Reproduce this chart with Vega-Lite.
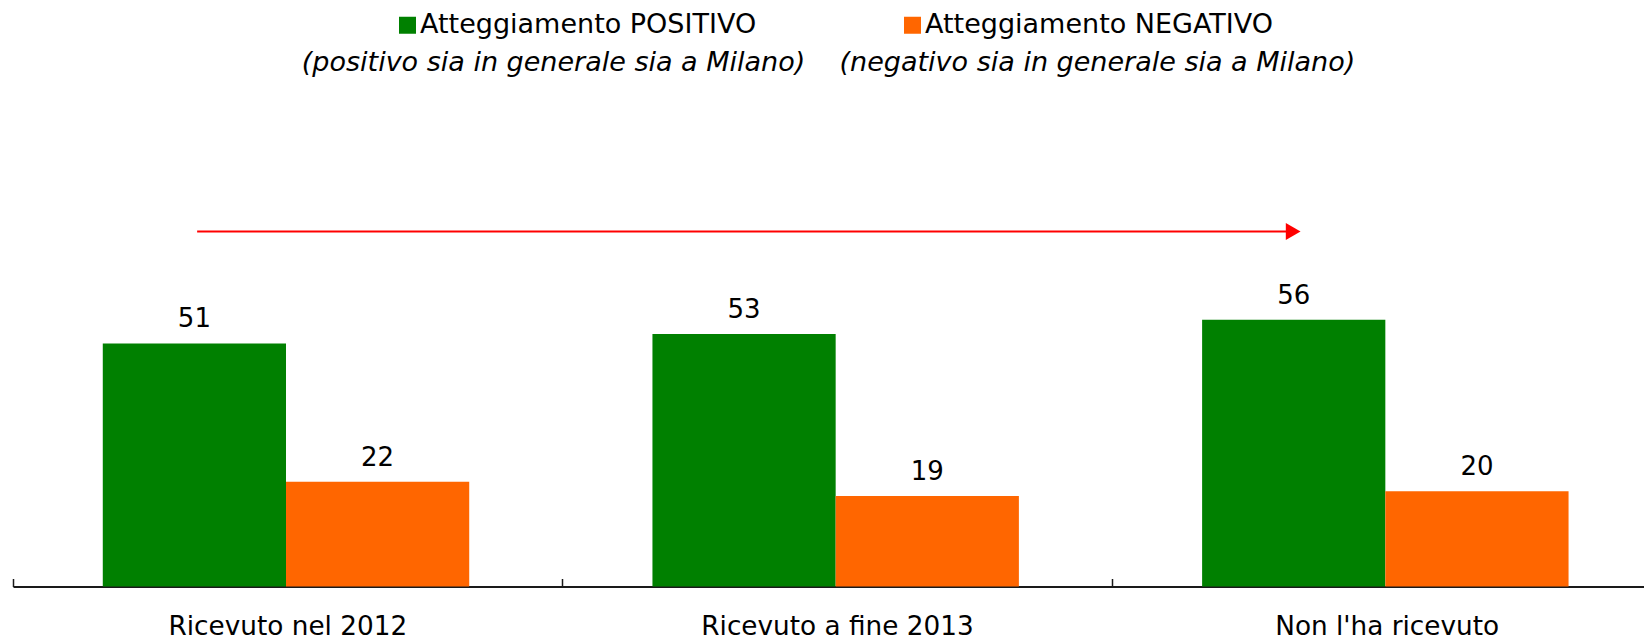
{
  "$schema": "https://vega.github.io/schema/vega-lite/v6.json",
  "autosize": {"type": "none"},
  "padding": {"left": 13, "top": 110, "right": 0, "bottom": 53.5},
  "width": 1631,
  "height": 476.5,
  "background": "white",
  "config": {
    "view": {"stroke": null},
    "font": "DejaVu Sans",
    "text": {"font": "DejaVu Sans"}
  },
  "title": {
    "text": "(positivo sia in generale sia a Milano)\u00a0\u00a0\u00a0\u00a0(negativo sia in generale sia a Milano)",
    "font": "DejaVu Sans",
    "fontSize": 27,
    "fontStyle": "italic",
    "fontWeight": "normal",
    "color": "#000000",
    "anchor": "middle",
    "dy": 69
  },
  "datasets": {
    "bars": [
      {"cat": "Ricevuto nel 2012", "serie": "Atteggiamento POSITIVO", "v": 51},
      {"cat": "Ricevuto nel 2012", "serie": "Atteggiamento NEGATIVO", "v": 22},
      {"cat": "Ricevuto a fine 2013", "serie": "Atteggiamento POSITIVO", "v": 53},
      {"cat": "Ricevuto a fine 2013", "serie": "Atteggiamento NEGATIVO", "v": 19},
      {"cat": "Non l'ha ricevuto", "serie": "Atteggiamento POSITIVO", "v": 56},
      {"cat": "Non l'ha ricevuto", "serie": "Atteggiamento NEGATIVO", "v": 20}
    ],
    "arrow": [
      {"from": "Ricevuto nel 2012", "to": "Non l'ha ricevuto", "y": 74.5}
    ]
  },
  "layer": [
    {
      "data": {"name": "bars"},
      "mark": {"type": "bar"},
      "encoding": {
        "x": {
          "field": "cat", "type": "nominal", "sort": null,
          "scale": {"domain": ["Ricevuto nel 2012", "Ricevuto a fine 2013", "Non l'ha ricevuto"], "range": [0, 1649], "paddingInner": 0, "paddingOuter": 0},
          "axis": {
            "title": null, "labelAngle": 0, "labelFontSize": 26.3, "labelColor": "#000000", "labelFont": "DejaVu Sans",
            "labelPadding": 35, "domainColor": "#1a1a1a", "domainWidth": 2, "tickColor": "#1a1a1a", "tickWidth": 1.5,
            "tickSize": -8, "bandPosition": 0, "labelLimit": 0
          }
        },
        "xOffset": {
          "field": "serie", "type": "nominal", "sort": null,
          "scale": {"domain": ["Atteggiamento POSITIVO", "Atteggiamento NEGATIVO"], "paddingOuter": 0.5, "paddingInner": 0, "align": 0.49}
        },
        "y": {"field": "v", "type": "quantitative", "scale": {"domain": [0, 100], "nice": false}, "axis": null},
        "color": {
          "field": "serie", "type": "nominal", "sort": null,
          "scale": {"domain": ["Atteggiamento POSITIVO", "Atteggiamento NEGATIVO"], "range": ["#008000", "#FF6600"]},
          "legend": {
            "title": null, "orient": "none", "direction": "horizontal", "legendX": 381, "legendY": -98.5,
            "symbolType": "square", "symbolSize": 289, "symbolStrokeWidth": 0, "labelFontSize": 27, "labelFont": "DejaVu Sans",
            "labelColor": "#000000", "labelOffset": -1, "columnPadding": 142, "padding": 0, "labelLimit": 0
          }
        }
      }
    },
    {
      "data": {"name": "bars"},
      "mark": {"type": "text", "baseline": "alphabetic", "dy": -16, "fontSize": 26, "color": "#000000", "font": "DejaVu Sans"},
      "encoding": {
        "x": {"field": "cat", "type": "nominal", "sort": null},
        "xOffset": {"field": "serie", "type": "nominal", "sort": null},
        "y": {"field": "v", "type": "quantitative"},
        "text": {"field": "v", "type": "quantitative"}
      }
    },
    {
      "data": {"name": "arrow"},
      "mark": {"type": "rule", "color": "#FF0000", "strokeWidth": 2},
      "encoding": {
        "x": {"field": "from", "type": "nominal", "bandPosition": 0.335},
        "x2": {"field": "to", "bandPosition": 0.329},
        "y": {"field": "y", "type": "quantitative"}
      }
    },
    {
      "data": {"name": "arrow"},
      "mark": {"type": "point", "shape": "triangle-right", "filled": true, "size": 290, "color": "#FF0000", "opacity": 1},
      "encoding": {
        "x": {"field": "to", "type": "nominal", "bandPosition": 0.329},
        "y": {"field": "y", "type": "quantitative"}
      }
    }
  ]
}
